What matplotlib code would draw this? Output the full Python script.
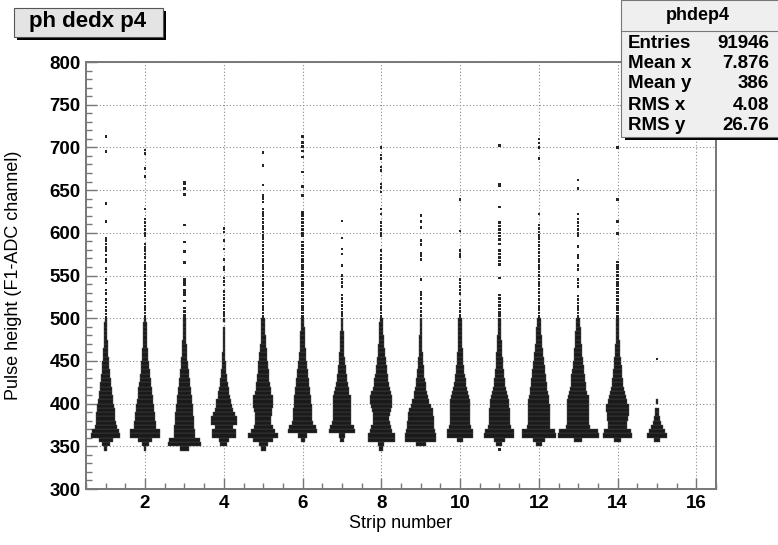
import numpy as np
import matplotlib
matplotlib.use("Agg")
import matplotlib.pyplot as plt
from matplotlib.patches import Rectangle
from matplotlib.ticker import MultipleLocator

# Pulse height bins (lower edge, ADC channels, 5 channels wide)
ph_bins = list(range(345, 500, 5))
strips = list(range(1, 16))

# Box widths (in strip units) per pulse-height bin, one list per strip
w1 = [0.08, 0.2, 0.35, 0.74, 0.7, 0.55, 0.5, 0.48, 0.47, 0.45, 0.42, 0.38, 0.35, 0.32, 0.3, 0.27, 0.25, 0.23, 0.21, 0.19, 0.17, 0.15, 0.13, 0.12, 0.11, 0.1, 0.09, 0.08, 0.08, 0.07, 0.06]
w2 = [0.05, 0.18, 0.35, 0.78, 0.75, 0.58, 0.54, 0.52, 0.5, 0.47, 0.44, 0.41, 0.38, 0.36, 0.34, 0.31, 0.28, 0.25, 0.23, 0.21, 0.19, 0.17, 0.15, 0.14, 0.12, 0.11, 0.1, 0.09, 0.08, 0.08, 0.07]
w3 = [0.25, 0.84, 0.8, 0.55, 0.53, 0.51, 0.5, 0.48, 0.46, 0.44, 0.42, 0.4, 0.37, 0.34, 0.31, 0.28, 0.26, 0.24, 0.21, 0.19, 0.17, 0.15, 0.13, 0.12, 0.11, 0.1, 0.09, 0.08, 0.07, 0.06, 0.06]
w4 = [0.0, 0.17, 0.25, 0.6, 0.6, 0.47, 0.65, 0.66, 0.55, 0.47, 0.42, 0.38, 0.32, 0.27, 0.24, 0.2, 0.17, 0.14, 0.12, 0.1, 0.09, 0.08, 0.07, 0.06, 0.06, 0.05, 0.05, 0.05, 0.05, 0.0, 0.05]
w5 = [0.12, 0.22, 0.5, 0.76, 0.6, 0.48, 0.42, 0.4, 0.43, 0.47, 0.5, 0.52, 0.51, 0.42, 0.38, 0.35, 0.32, 0.3, 0.28, 0.26, 0.24, 0.21, 0.19, 0.17, 0.15, 0.13, 0.12, 0.11, 0.1, 0.1, 0.09]
w6 = [0.0, 0.0, 0.1, 0.22, 0.74, 0.7, 0.53, 0.5, 0.49, 0.47, 0.46, 0.44, 0.42, 0.4, 0.38, 0.35, 0.32, 0.3, 0.27, 0.24, 0.21, 0.19, 0.17, 0.15, 0.14, 0.13, 0.12, 0.11, 0.1, 0.09, 0.08]
w7 = [0.0, 0.0, 0.08, 0.17, 0.68, 0.6, 0.48, 0.47, 0.47, 0.47, 0.47, 0.46, 0.44, 0.38, 0.34, 0.3, 0.27, 0.24, 0.21, 0.19, 0.16, 0.14, 0.13, 0.11, 0.1, 0.09, 0.085, 0.08, 0.07, 0.07, 0.06]
w8 = [0.1, 0.15, 0.7, 0.68, 0.55, 0.5, 0.43, 0.41, 0.43, 0.47, 0.52, 0.55, 0.55, 0.5, 0.43, 0.39, 0.35, 0.32, 0.29, 0.27, 0.24, 0.22, 0.19, 0.17, 0.15, 0.14, 0.12, 0.11, 0.1, 0.1, 0.09]
w9 = [0.0, 0.25, 0.8, 0.8, 0.75, 0.68, 0.67, 0.66, 0.64, 0.6, 0.5, 0.42, 0.36, 0.32, 0.28, 0.25, 0.22, 0.19, 0.17, 0.15, 0.13, 0.12, 0.1, 0.09, 0.08, 0.07, 0.07, 0.06, 0.06, 0.05, 0.05]
w10 = [0.0, 0.0, 0.17, 0.67, 0.66, 0.55, 0.53, 0.53, 0.52, 0.52, 0.51, 0.5, 0.47, 0.42, 0.37, 0.32, 0.28, 0.25, 0.22, 0.19, 0.17, 0.15, 0.14, 0.13, 0.12, 0.11, 0.1, 0.09, 0.09, 0.08, 0.08]
w11 = [0.0, 0.15, 0.3, 0.76, 0.74, 0.57, 0.55, 0.55, 0.54, 0.52, 0.5, 0.47, 0.43, 0.38, 0.34, 0.3, 0.27, 0.24, 0.22, 0.2, 0.19, 0.17, 0.15, 0.14, 0.12, 0.11, 0.1, 0.09, 0.08, 0.08, 0.07]
w12 = [0.0, 0.15, 0.3, 0.86, 0.84, 0.58, 0.56, 0.55, 0.55, 0.55, 0.55, 0.54, 0.5, 0.46, 0.43, 0.4, 0.38, 0.36, 0.33, 0.3, 0.28, 0.25, 0.22, 0.19, 0.17, 0.15, 0.14, 0.13, 0.12, 0.11, 0.1]
w13 = [0.0, 0.0, 0.2, 1.04, 1.0, 0.62, 0.57, 0.56, 0.55, 0.55, 0.55, 0.55, 0.53, 0.47, 0.42, 0.39, 0.36, 0.34, 0.31, 0.28, 0.25, 0.23, 0.21, 0.19, 0.17, 0.16, 0.15, 0.14, 0.12, 0.11, 0.1]
w14 = [0.0, 0.0, 0.17, 0.75, 0.7, 0.47, 0.5, 0.53, 0.56, 0.59, 0.58, 0.5, 0.45, 0.38, 0.34, 0.3, 0.27, 0.24, 0.22, 0.2, 0.18, 0.16, 0.14, 0.13, 0.12, 0.1, 0.09, 0.09, 0.08, 0.07, 0.07]
w15 = [0.0, 0.0, 0.15, 0.53, 0.4, 0.3, 0.21, 0.15, 0.1, 0.08, 0.0, 0.07, 0.0, 0.0, 0.0, 0.0, 0.0, 0.0, 0.0, 0.0, 0.0, 0.0, 0.0, 0.0, 0.0, 0.0, 0.0, 0.0, 0.0, 0.0, 0.0]

# Sparse entries in the upper tails (pulse height of single-count cells)
t1 = [713, 695, 634, 613, 594, 591, 587, 583, 579, 574, 569, 566, 558, 554, 545, 541, 533, 529, 522, 518, 513, 509, 505, 501]
t2 = [697, 693, 675, 666, 628, 616, 612, 608, 604, 600, 597, 587, 583, 579, 575, 571, 566, 562, 558, 554, 550, 546, 542, 538, 534, 530, 526, 522, 518, 514, 510, 506, 502]
t3 = [659, 657, 652, 645, 609, 589, 578, 565, 545, 542, 539, 533, 530, 527, 520, 512, 508, 504, 501]
t4 = [605, 601, 591, 581, 569, 560, 557, 547, 543, 539, 531, 527, 523, 519, 515, 511, 507, 503]
t5 = [694, 679, 656, 644, 640, 636, 628, 624, 620, 616, 612, 608, 605, 601, 597, 593, 589, 585, 581, 577, 573, 569, 566, 562, 558, 554, 550, 546, 542, 538, 534, 530, 526, 522, 518, 514, 510, 506, 502]
t6 = [713, 706, 701, 696, 689, 671, 654, 644, 624, 620, 616, 612, 608, 604, 600, 597, 589, 585, 581, 577, 573, 569, 566, 562, 558, 554, 550, 546, 542, 538, 534, 530, 526, 522, 518, 514, 510, 506, 502]
t7 = [614, 594, 581, 575, 562, 550, 546, 542, 537, 527, 523, 519, 515, 511, 507, 503]
t8 = [700, 691, 687, 677, 673, 657, 653, 648, 628, 622, 612, 608, 604, 600, 597, 579, 574, 570, 566, 562, 558, 554, 550, 546, 542, 538, 534, 530, 526, 522, 518, 514, 510, 506, 502]
t9 = [620, 613, 606, 591, 586, 576, 573, 569, 545, 530, 527, 523, 517, 512, 508, 503]
t10 = [639, 602, 579, 575, 572, 545, 541, 537, 533, 529, 520, 516, 512, 508, 504, 501]
t11 = [702, 657, 655, 630, 612, 608, 604, 600, 596, 592, 587, 579, 575, 571, 567, 563, 547, 527, 523, 519, 515, 511, 507, 503, 346]
t12 = [710, 705, 700, 687, 622, 609, 605, 601, 597, 593, 589, 585, 581, 577, 573, 569, 566, 562, 558, 554, 550, 546, 542, 538, 534, 530, 526, 522, 518, 514, 510, 506, 502]
t13 = [662, 652, 622, 616, 612, 608, 604, 600, 597, 584, 574, 571, 562, 557, 545, 541, 537, 526, 522, 518, 514, 510, 506, 502]
t14 = [700, 639, 613, 599, 566, 562, 558, 554, 550, 546, 542, 538, 534, 530, 526, 522, 518, 514, 510, 506, 502]
t15 = [452]

widths = [w1, w2, w3, w4, w5, w6, w7, w8, w9, w10, w11, w12, w13, w14, w15]
tails = [t1, t2, t3, t4, t5, t6, t7, t8, t9, t10, t11, t12, t13, t14, t15]

stats_labels = ["Entries", "Mean x", "Mean y", "RMS x", "RMS y"]
stats_values = ["91946", "7.876", "386", "4.08", "26.76"]

W, H = 778, 545
fig = plt.figure(figsize=(W / 100, H / 100), dpi=100)
fig.patch.set_facecolor("white")
ax = fig.add_axes([86 / W, 1 - 489 / H, 630 / W, 427 / H])

box_col = "#1a1a1a"
for x, w, t in zip(strips, widths, tails):
    w = np.array(w)
    y = np.array(ph_bins)
    keep = w > 0
    ax.barh(y[keep] + 2.5, w[keep], left=x - w[keep] / 2, height=5,
            color=box_col, edgecolor="#4d4d4d", linewidth=0.3, zorder=3)
    t = np.array(t)
    ax.barh(t, 0.06, left=x - 0.03, height=3.0, color="#262626",
            linewidth=0, zorder=3)

ax.set_xlim(0.5, 16.5)
ax.set_ylim(300, 800)
ax.xaxis.set_major_locator(MultipleLocator(2))
ax.xaxis.set_minor_locator(MultipleLocator(0.5))
ax.yaxis.set_major_locator(MultipleLocator(50))
ax.yaxis.set_minor_locator(MultipleLocator(10))
ax.tick_params(which="both", direction="in", top=False, right=False,
               color="#777777", width=1.0)
ax.tick_params(which="major", length=8, labelsize=13.5, pad=4)
ax.tick_params(which="minor", length=4.5)
for lab in ax.get_xticklabels() + ax.get_yticklabels():
    lab.set_fontfamily("Liberation Sans")
    lab.set_fontweight("bold")
ax.grid(True, which="major", linestyle=(0, (1, 2)), color="#8c8c8c",
        linewidth=0.8, zorder=1)
ax.set_axisbelow(True)
for sp in ax.spines.values():
    sp.set_color("#777777")
    sp.set_linewidth(1.4)

fig.text(401 / W, 1 - 524 / H, "Strip number", ha="center", va="center",
         fontsize=13, family="Liberation Sans")
fig.text(14 / W, 1 - 275 / H, "Pulse height (F1-ADC channel)", ha="center",
         va="center", rotation=90, fontsize=13, family="Liberation Sans")


def fig_rect(x0, y0, x1, y1, **kw):
    # rectangle in pixel coordinates (y from top)
    r = Rectangle((x0 / W, 1 - y1 / H), (x1 - x0) / W, (y1 - y0) / H,
                  transform=fig.transFigure, **kw)
    fig.add_artist(r)


# Title box with shadow
fig_rect(17, 11, 166, 40, facecolor="black", edgecolor="none")
fig_rect(14, 8, 163, 37, facecolor="#e4e4e4", edgecolor="#555555", linewidth=0.8)
fig.text(88 / W, 1 - 22 / H, "ph dedx p4", ha="center", va="center",
         fontsize=16, fontweight="bold", family="Liberation Sans")

# Statistics box
fig_rect(625, 3, 781, 140, facecolor="black", edgecolor="none")
fig_rect(621, 0, 781, 137, facecolor="#efefef", edgecolor="#777777", linewidth=0.8)
fig.add_artist(plt.Line2D([621 / W, 1], [1 - 31 / H, 1 - 31 / H],
                          transform=fig.transFigure, color="#777777", linewidth=0.8))
fig.text(698 / W, 1 - 16 / H, "phdep4", ha="center", va="center",
         fontsize=13, fontweight="bold", family="Liberation Sans")
row_y = [43, 63, 84, 105, 125]
for yy, lab, val in zip(row_y, stats_labels, stats_values):
    fig.text(628 / W, 1 - yy / H, lab, ha="left", va="center",
             fontsize=13.5, fontweight="bold", family="Liberation Sans")
    fig.text(769 / W, 1 - yy / H, val, ha="right", va="center",
             fontsize=13.5, fontweight="bold", family="Liberation Sans")

fig.savefig("out.png", dpi=100)
